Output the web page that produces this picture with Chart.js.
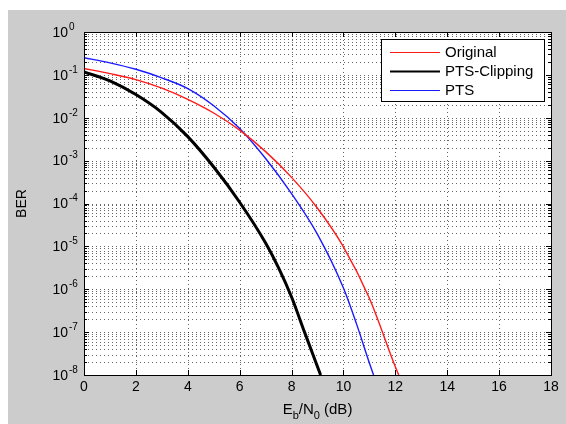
<!DOCTYPE html>
<html><head><meta charset="utf-8">
<script src="https://cdn.jsdelivr.net/npm/chart.js@4.4.0/dist/chart.umd.min.js"></script>
<style>html,body{margin:0;padding:0;background:#fff;overflow:hidden}</style>
</head><body>
<canvas id="c" width="566" height="424" style="display:block"></canvas>
<script>
// ---- data ----
const seriesLabels = ['Original', 'PTS-Clipping', 'PTS'];
const ebn0Original = [0, 1, 2, 3, 4, 5, 6, 7, 8, 9, 10, 11, 12, 12.13];
const berOriginal  = [0.1413, 0.1072, 0.0776, 0.049, 0.0269, 0.0129, 0.00513, 0.00162, 4.07e-4, 7.76e-5, 9.77e-6, 6.17e-7, 1.55e-8, 1e-8];
const ebn0Clip = [0, 1, 2, 3, 4, 5, 6, 7, 7.5, 8, 8.5, 9.12];
const berClip  = [0.1175, 0.0724, 0.0347, 0.0132, 0.00363, 7.08e-4, 1.07e-4, 1.2e-5, 3.16e-6, 6.61e-7, 1e-7, 1e-8];
const ebn0Pts = [0, 1, 2, 3, 4, 5, 6, 7, 8, 9, 10, 10.5, 11, 11.16];
const berPts  = [0.251, 0.191, 0.135, 0.0851, 0.0479, 0.0191, 0.00562, 0.00112, 1.7e-4, 1.91e-5, 1.07e-6, 1.58e-7, 1.91e-8, 1e-8];
const xTickLabels = ['0', '2', '4', '6', '8', '10', '12', '14', '16', '18'];
const yExponents = ['0', '-1', '-2', '-3', '-4', '-5', '-6', '-7', '-8'];
const xTitle = [['E', 0], ['b', 1], ['/N', 0], ['0', 1], [' (dB)', 0]];
const yTitle = 'BER';

const FONT = '"Liberation Sans", Arial, Helvetica, sans-serif';
const toPts = (xs, ys) => xs.map((x, i) => ({x: x, y: ys[i]}));

const matlabPlugin = {
  id: 'matlab',
  beforeDraw(chart) {
    const ctx = chart.ctx, a = chart.chartArea;
    ctx.save();
    ctx.fillStyle = '#ffffff';
    ctx.fillRect(0, 0, chart.width, chart.height);
    ctx.fillStyle = '#cccccc';
    ctx.fillRect(8, 10, chart.width - 8, chart.height - 10);
    ctx.fillStyle = '#ffffff';
    ctx.fillRect(a.left, a.top, a.right - a.left, a.bottom - a.top);
    ctx.restore();
  },
  beforeDatasetsDraw(chart) {
    const ctx = chart.ctx, a = chart.chartArea;
    const xs = chart.scales.x, ys = chart.scales.y;
    ctx.save();
    ctx.beginPath();
    ctx.rect(a.left, a.top, a.right - a.left, a.bottom - a.top);
    ctx.clip();
    ctx.strokeStyle = 'rgba(0,0,0,0.6)';
    ctx.lineWidth = 1;
    ctx.setLineDash([1, 3]);
    ys.ticks.forEach(t => {
      const y = Math.round(ys.getPixelForValue(t.value)) + 0.5;
      ctx.beginPath(); ctx.moveTo(a.left, y); ctx.lineTo(a.right, y); ctx.stroke();
    });
    xs.ticks.forEach(t => {
      const x = Math.round(xs.getPixelForValue(t.value)) + 0.5;
      ctx.beginPath(); ctx.moveTo(x, a.top); ctx.lineTo(x, a.bottom); ctx.stroke();
    });
    ctx.restore();
  },
  afterDatasetsDraw(chart) {
    const ctx = chart.ctx, a = chart.chartArea;
    const xs = chart.scales.x, ys = chart.scales.y;
    ctx.save();
    // box
    ctx.strokeStyle = '#000';
    ctx.lineWidth = 1;
    ctx.setLineDash([]);
    ctx.strokeRect(Math.round(a.left) + 0.5, Math.round(a.top) + 0.5,
      Math.round(a.right - a.left), Math.round(a.bottom - a.top));
    // ticks
    ctx.beginPath();
    ys.ticks.forEach(t => {
      const y = Math.round(ys.getPixelForValue(t.value)) + 0.5;
      const len = t.major ? 5 : 3;
      ctx.moveTo(a.left, y); ctx.lineTo(a.left + len, y);
      ctx.moveTo(a.right, y); ctx.lineTo(a.right - len, y);
    });
    xs.ticks.forEach(t => {
      const x = Math.round(xs.getPixelForValue(t.value)) + 0.5;
      ctx.moveTo(x, a.bottom); ctx.lineTo(x, a.bottom - 5);
      ctx.moveTo(x, a.top); ctx.lineTo(x, a.top + 5);
    });
    ctx.stroke();
    // x tick labels
    ctx.fillStyle = '#000';
    ctx.font = '14px ' + FONT;
    ctx.textAlign = 'center';
    ctx.textBaseline = 'middle';
    xs.ticks.forEach((t, i) => {
      ctx.fillText(xTickLabels[i], xs.getPixelForValue(t.value), a.bottom + 12);
    });
    // y tick labels (decades)
    yExponents.forEach(e => {
      const v = Number('1e' + e);
      const y = ys.getPixelForValue(v);
      ctx.font = '14px ' + FONT;
      ctx.textAlign = 'right';
      ctx.fillText('10', a.left - 16, y + 1);
      ctx.font = '10px ' + FONT;
      ctx.textAlign = 'left';
      ctx.fillText(e, a.left - 15, y - 5);
    });
    // y title
    ctx.save();
    ctx.translate(22, (a.top + a.bottom) / 2);
    ctx.rotate(-Math.PI / 2);
    ctx.font = '14px ' + FONT;
    ctx.textAlign = 'center';
    ctx.fillText(yTitle, 0, 0);
    ctx.restore();
    // x title with subscripts
    const runs = xTitle.map(([s, sub]) => {
      ctx.font = (sub ? '11px ' : '15px ') + FONT;
      return {s, sub, w: ctx.measureText(s).width};
    });
    const total = runs.reduce((p, r) => p + r.w, 0);
    let cx = (a.left + a.right) / 2 - total / 2;
    ctx.textAlign = 'left';
    ctx.textBaseline = 'alphabetic';
    runs.forEach(r => {
      ctx.font = (r.sub ? '11px ' : '15px ') + FONT;
      ctx.fillText(r.s, cx, r.sub ? 419 : 414);
      cx += r.w;
    });
    // legend
    const lx = 381.5, ly = 39.5, lw = 163, lh = 62;
    ctx.fillStyle = '#fff';
    ctx.fillRect(lx, ly, lw, lh);
    ctx.strokeStyle = '#000';
    ctx.lineWidth = 1;
    ctx.strokeRect(lx, ly, lw, lh);
    const rows = [52, 71, 90];
    ctx.font = '15px ' + FONT;
    ctx.textBaseline = 'middle';
    chart.data.datasets.forEach((ds, i) => {
      ctx.strokeStyle = ds.borderColor;
      ctx.lineWidth = ds.borderWidth > 2 ? 2 : 1;
      ctx.beginPath();
      ctx.moveTo(390, rows[i] + 0.5); ctx.lineTo(440, rows[i] + 0.5);
      ctx.stroke();
      ctx.fillStyle = '#000';
      ctx.fillText(ds.label, 445, rows[i] + 1);
    });
    ctx.restore();
  }
};

new Chart(document.getElementById('c'), {
  type: 'line',
  data: {
    datasets: [
      {label: seriesLabels[0], data: toPts(ebn0Original, berOriginal), borderColor: '#ff1a1a', borderWidth: 1.4},
      {label: seriesLabels[1], data: toPts(ebn0Clip, berClip), borderColor: '#000000', borderWidth: 3},
      {label: seriesLabels[2], data: toPts(ebn0Pts, berPts), borderColor: '#1a1aff', borderWidth: 1.4}
    ]
  },
  options: {
    responsive: false,
    devicePixelRatio: 1,
    animation: false,
    events: [],
    layout: {padding: {left: 76, top: 32, right: 15, bottom: 41}},
    elements: {
      point: {radius: 0},
      line: {cubicInterpolationMode: 'monotone', fill: false}
    },
    plugins: {legend: {display: false}, tooltip: {enabled: false}},
    scales: {
      x: {
        type: 'linear', min: 0, max: 18,
        ticks: {display: false, stepSize: 2},
        afterBuildTicks: s => { s.ticks = xTickLabels.map(l => ({value: Number(l)})); },
        grid: {display: false}, border: {display: false}
      },
      y: {
        type: 'logarithmic', min: 1e-8, max: 1,
        ticks: {display: false},
        afterBuildTicks: s => {
          const t = [];
          yExponents.slice().reverse().forEach(e => {
            for (let m = 1; m <= 9; m++) {
              const v = Number(m + 'e' + e);
              if (v <= 1) t.push({value: v, major: m === 1});
            }
          });
          s.ticks = t;
        },
        grid: {display: false}, border: {display: false}
      }
    }
  },
  plugins: [matlabPlugin]
});
</script>
</body></html>
